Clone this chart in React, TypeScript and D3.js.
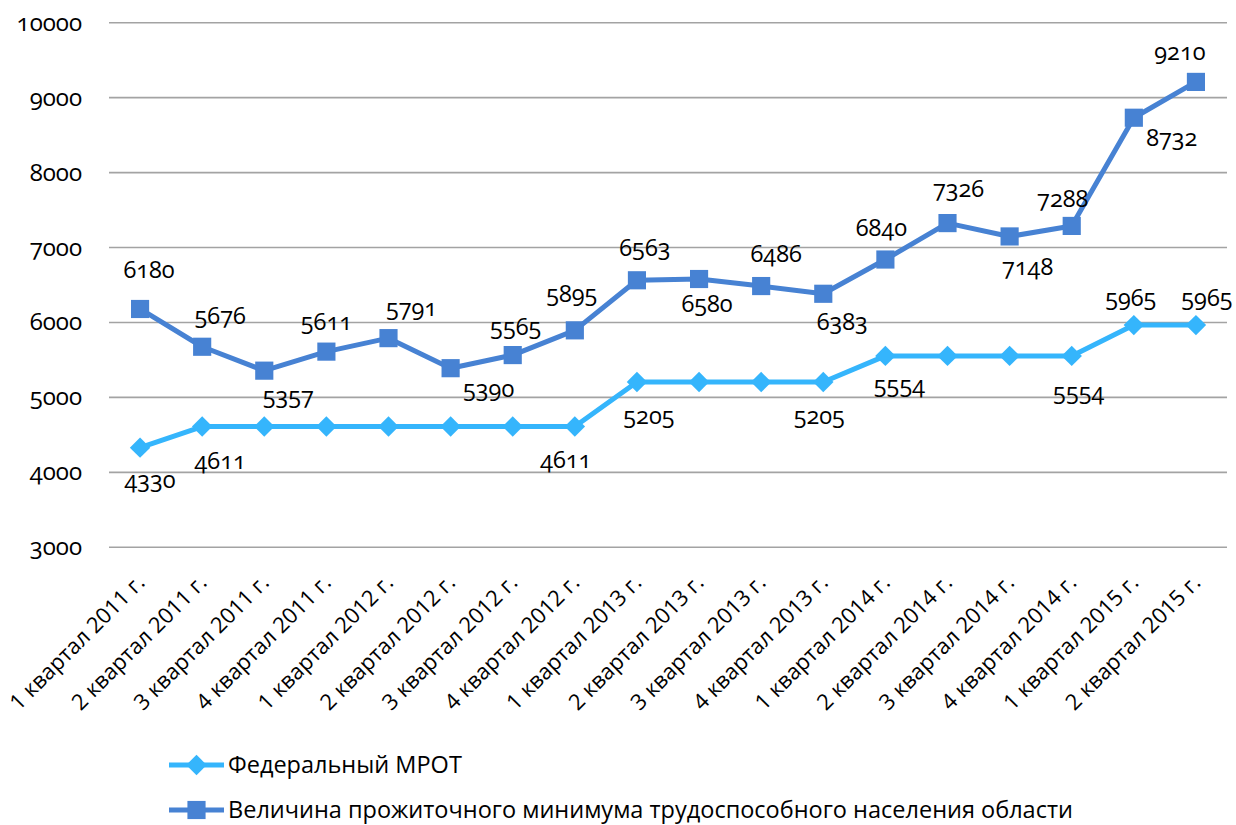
import React, { useEffect, useRef } from "react";
import * as d3 from "d3";

// категории по оси X
const quarters = [
  "1 квартал 2011 г.", "2 квартал 2011 г.", "3 квартал 2011 г.", "4 квартал 2011 г.",
  "1 квартал 2012 г.", "2 квартал 2012 г.", "3 квартал 2012 г.", "4 квартал 2012 г.",
  "1 квартал 2013 г.", "2 квартал 2013 г.", "3 квартал 2013 г.", "4 квартал 2013 г.",
  "1 квартал 2014 г.", "2 квартал 2014 г.", "3 квартал 2014 г.", "4 квартал 2014 г.",
  "1 квартал 2015 г.", "2 квартал 2015 г.",
];

const mrot = [
  4330, 4611, 4611, 4611, 4611, 4611, 4611, 4611,
  5205, 5205, 5205, 5205, 5554, 5554, 5554, 5554, 5965, 5965,
];

const subsistence = [
  6180, 5676, 5357, 5611, 5791, 5390, 5565, 5895,
  6563, 6580, 6486, 6383, 6840, 7326, 7148, 7288, 8732, 9210,
];

const yTicks = [3000, 4000, 5000, 6000, 7000, 8000, 9000, 10000];

const seriesNames = [
  "Федеральный МРОТ",
  "Величина прожиточного минимума трудоспособного населения области",
];

// смещения подписей (как их расставили вручную), null = подпись скрыта
const mrotLabelShift: ([number, number] | null)[] = [
  [10, 40], [18, 42], null, null, null, null, null, [-9, 41],
  [12, 42], null, null, [-4, 42], [14, 37], null, null, [7, 44], [-3, -19], [11, -19],
];
const subsLabelShift: [number, number][] = [
  [9, -31], [18, -23], [24, 33], [0, -22], [23, -22], [38, 29], [3, -20], [-3, -28],
  [8, -24], [8, 33], [15, -24], [19, 36], [-4, -24], [11, -26], [18, 39], [-9, -19],
  [38, 28], [-16, -22],
];

const W = 1236;
const H = 825;
const light = "#35b5fc";
const dark = "#4782d3";
const numFont = "'Open Sans', sans-serif";

const App = () => {
  const svgRef = useRef<SVGSVGElement>(null);

  useEffect(() => {
    const svg = d3.select(svgRef.current);
    svg.selectAll("*").remove();

    const x = d3.scaleBand<string>().domain(quarters).range([109, 1227]);
    const y = d3.scaleLinear().domain([3000, 10000]).range([547.3, 22.7]);
    const cx = (i: number) => (x(quarters[i]) as number) + x.bandwidth() / 2;

    // сетка
    svg
      .append("g")
      .selectAll("line")
      .data(yTicks)
      .join("line")
      .attr("x1", 109)
      .attr("x2", 1227)
      .attr("y1", (d) => y(d))
      .attr("y2", (d) => y(d))
      .attr("stroke", "#a3a3a3")
      .attr("stroke-width", 1.6);

    svg
      .append("g")
      .selectAll("text")
      .data(yTicks)
      .join("text")
      .attr("x", 82)
      .attr("y", (d) => y(d) + 8)
      .attr("text-anchor", "end")
      .style("font", `24px ${numFont}`)
      .style("font-variant-numeric", "oldstyle-nums")
      .attr("fill", "#000")
      .text((d) => d);

    // подписи оси X
    svg
      .append("g")
      .selectAll("text")
      .data(quarters)
      .join("text")
      .attr("transform", (d, i) => `translate(${cx(i) + 6},${584}) rotate(-45)`)
      .attr("text-anchor", "end")
      .style("font", "22px 'Open Sans', sans-serif")
      .attr("fill", "#000")
      .text((d) => d);

    const line = d3
      .line<number>()
      .x((d, i) => cx(i))
      .y((d) => y(d));

    const drawSeries = (vals: number[], color: string, shape: "diamond" | "square") => {
      svg
        .append("path")
        .attr("d", line(vals))
        .attr("fill", "none")
        .attr("stroke", color)
        .attr("stroke-width", 5)
        .attr("stroke-linejoin", "round");
      const sym = d3
        .symbol()
        .type(shape === "square" ? d3.symbolSquare : d3.symbolDiamond2)
        .size(shape === "square" ? 330 : 170);
      svg
        .append("g")
        .selectAll("path")
        .data(vals)
        .join("path")
        .attr("transform", (d, i) => `translate(${cx(i)},${y(d)})${shape === "diamond" ? " scale(1.25)" : ""}`)
        .attr("d", sym())
        .attr("fill", color);
    };

    drawSeries(mrot, light, "diamond");
    drawSeries(subsistence, dark, "square");

    const drawLabels = (vals: number[], shifts: ([number, number] | null)[]) => {
      svg
        .append("g")
        .selectAll("text")
        .data(vals.map((v, i) => ({ v, i, s: shifts[i] })).filter((d) => d.s))
        .join("text")
        .attr("x", (d) => cx(d.i) + (d.s as [number, number])[0])
        .attr("y", (d) => y(d.v) + (d.s as [number, number])[1])
        .attr("text-anchor", "middle")
        .style("font", `23.5px ${numFont}`)
        .style("font-variant-numeric", "oldstyle-nums")
        .attr("fill", "#000")
        .text((d) => d.v);
    };
    drawLabels(mrot, mrotLabelShift);
    drawLabels(subsistence, subsLabelShift);

    // легенда
    const legend = svg.append("g");
    [light, dark].forEach((c, k) => {
      const ly = 765 + k * 45;
      legend
        .append("line")
        .attr("x1", 169)
        .attr("x2", 224)
        .attr("y1", ly)
        .attr("y2", ly)
        .attr("stroke", c)
        .attr("stroke-width", 5);
      legend
        .append("path")
        .attr("transform", `translate(196.5,${ly})${k === 0 ? " scale(1.25)" : ""}`)
        .attr("d", d3.symbol().type(k === 0 ? d3.symbolDiamond2 : d3.symbolSquare).size(k === 0 ? 170 : 330)())
        .attr("fill", c);
      legend
        .append("text")
        .attr("x", 228)
        .attr("y", ly + 8)
        .style("font", "23.5px 'Open Sans', sans-serif")
        .attr("fill", "#000")
        .text(seriesNames[k]);
    });
  }, []);

  return (
    <svg
      ref={svgRef}
      width={W}
      height={H}
      viewBox={`0 0 ${W} ${H}`}
      style={{ position: "absolute", left: 0, top: 0, background: "#fff" }}
    />
  );
};

export default App;
